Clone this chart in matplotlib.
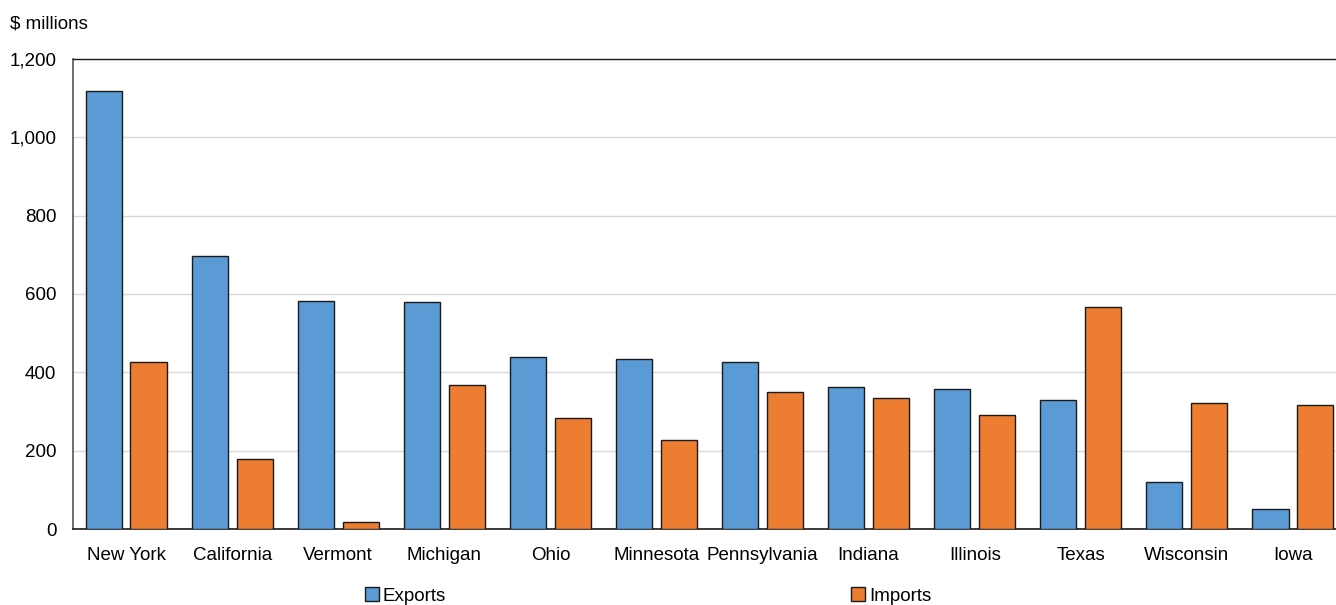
import matplotlib
matplotlib.use("Agg")
import matplotlib.pyplot as plt
from matplotlib.patches import Patch
import numpy as np

states = ["New York", "California", "Vermont", "Michigan", "Ohio", "Minnesota",
          "Pennsylvania", "Indiana", "Illinois", "Texas", "Wisconsin", "Iowa"]
exports = [1118, 697, 582, 580, 439, 434, 426, 363, 357, 329, 120, 51]
imports = [426, 179, 18, 368, 283, 227, 350, 334, 291, 567, 322, 317]
yticks = [0, 200, 400, 600, 800, 1000, 1200]

plt.rcParams["font.family"] = ["Liberation Sans", "DejaVu Sans"]

W, H = 1336, 605
fig = plt.figure(figsize=(W / 100, H / 100), dpi=100)
left, right, top, bottom = 73, 1346, 59, 529
ax = fig.add_axes([left / W, 1 - bottom / H, (right - left) / W, (bottom - top) / H])

x = np.arange(len(states))
bw = 0.34
off = 0.212
ax.bar(x - off, exports, bw, color="#5B9BD5", edgecolor="#1a1a1a", linewidth=1.0, label="Exports", zorder=3)
ax.bar(x + off, imports, bw, color="#ED7D31", edgecolor="#1a1a1a", linewidth=1.0, label="Imports", zorder=3)

ax.set_xlim(-0.5, len(states) - 0.5)
ax.set_ylim(0, 1200)
ax.set_yticks(yticks)
ax.set_yticklabels([f"{v:,}" for v in yticks], fontsize=13.5)
ax.set_xticks(x)
ax.set_xticklabels(states, fontsize=13.5)
ax.tick_params(axis="x", length=0, pad=13)
ax.tick_params(axis="y", length=0, pad=12)
ax.yaxis.grid(True, color="#d9d9d9", linewidth=1.0, zorder=0)
ax.set_axisbelow(True)
for s in ["top", "right"]:
    ax.spines[s].set_color("#1a1a1a")
    ax.spines[s].set_linewidth(1.0)
ax.spines["left"].set_color("#555555")
ax.spines["left"].set_linewidth(1.2)
ax.spines["bottom"].set_color("#1a1a1a")
ax.spines["bottom"].set_linewidth(1.2)

fig.text(10 / W, 1 - 24 / H, "$ millions", fontsize=13.5, va="center", ha="left")

handles = [Patch(facecolor="#5B9BD5", edgecolor="#1a1a1a", label="Exports"),
           Patch(facecolor="#ED7D31", edgecolor="#1a1a1a", label="Imports")]
fig.legend(handles=handles, loc="center left", bbox_to_anchor=(365 / W, 1 - 596 / H), ncol=2,
           frameon=False, fontsize=13.5, handlelength=0.75, handleheight=0.75, handletextpad=0.2,
           columnspacing=21.6, borderpad=0, borderaxespad=0)

fig.savefig("out.png", dpi=100)
